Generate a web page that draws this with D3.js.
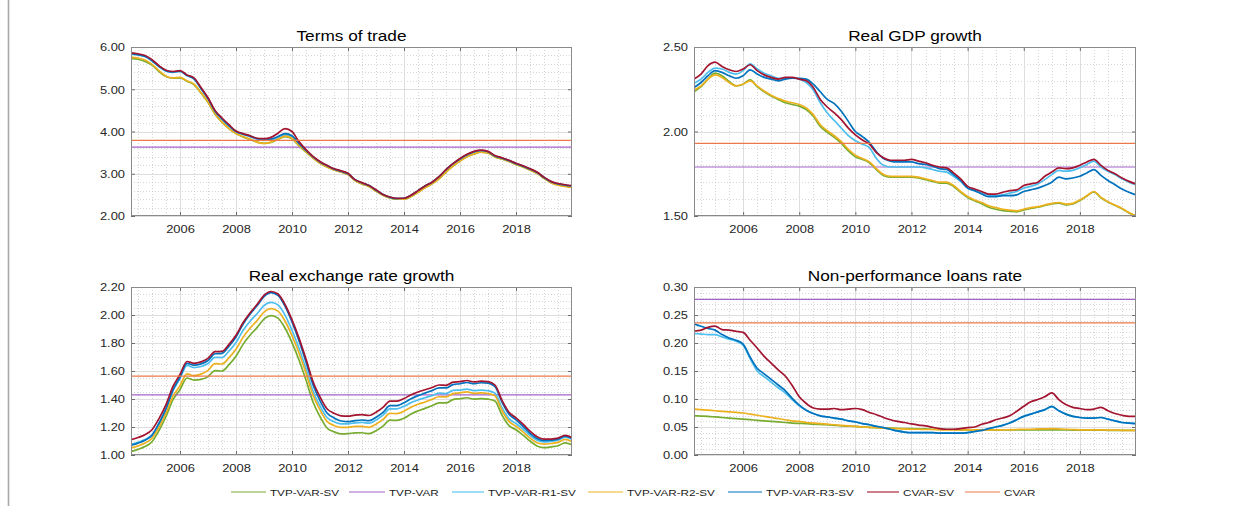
<!DOCTYPE html>
<html>
<head>
<meta charset="utf-8">
<script src="https://cdn.jsdelivr.net/npm/d3@7"></script>
<style>
  html, body { margin: 0; padding: 0; background: #fff; }
  svg { display: block; }
</style>
</head>
<body>
<svg id="fig" width="1252" height="506"></svg>
<script>
// ---------------------------------------------------------------------------
// Quarterly estimates, 2004Q2 .. 2020Q1 (64 observations per series)
// ---------------------------------------------------------------------------
const startYear = 2004.25;
const quarters = d3.range(64).map(i => startYear + i / 4);

const seriesNames = ["TVP-VAR-SV", "TVP-VAR", "TVP-VAR-R1-SV", "TVP-VAR-R2-SV", "TVP-VAR-R3-SV", "CVAR-SV", "CVAR"];

const yearTicks = [2006, 2008, 2010, 2012, 2014, 2016, 2018];

// Terms of trade
const totTicks = [2, 3, 4, 5, 6];
const totSV   = [5.73,5.71,5.66,5.57,5.42,5.30,5.26,5.27,5.19,5.11,4.91,4.69,4.41,4.22,4.07,3.95,3.87,3.81,3.75,3.72,3.74,3.81,3.88,3.83,3.66,3.51,3.37,3.25,3.16,3.09,3.04,2.98,2.84,2.76,2.70,2.59,2.49,2.43,2.40,2.40,2.46,2.56,2.67,2.76,2.88,3.04,3.18,3.30,3.40,3.47,3.51,3.49,3.40,3.35,3.29,3.22,3.16,3.09,3.01,2.89,2.79,2.74,2.71,2.68];
const totVAR  = 3.63;
const totR1   = [5.83,5.81,5.77,5.67,5.53,5.43,5.40,5.42,5.32,5.24,5.01,4.77,4.47,4.29,4.13,3.99,3.93,3.88,3.82,3.79,3.80,3.86,3.92,3.87,3.70,3.54,3.39,3.27,3.18,3.11,3.06,3.00,2.86,2.78,2.72,2.61,2.51,2.44,2.41,2.41,2.48,2.59,2.70,2.79,2.92,3.09,3.23,3.34,3.44,3.51,3.54,3.51,3.42,3.37,3.31,3.24,3.18,3.11,3.03,2.91,2.81,2.76,2.73,2.71];
const totR2   = [5.76,5.74,5.69,5.59,5.44,5.31,5.27,5.28,5.20,5.12,4.92,4.70,4.42,4.22,4.07,3.95,3.88,3.82,3.75,3.72,3.75,3.82,3.89,3.84,3.67,3.52,3.37,3.25,3.16,3.09,3.04,2.98,2.84,2.76,2.70,2.59,2.49,2.43,2.40,2.40,2.46,2.56,2.67,2.76,2.88,3.04,3.18,3.30,3.40,3.47,3.51,3.49,3.40,3.35,3.29,3.22,3.16,3.09,3.01,2.89,2.79,2.73,2.70,2.67];
const totR3   = [5.84,5.82,5.78,5.68,5.54,5.44,5.41,5.43,5.33,5.25,5.02,4.78,4.48,4.30,4.14,4.00,3.94,3.89,3.83,3.80,3.82,3.88,3.95,3.90,3.72,3.55,3.40,3.28,3.19,3.11,3.06,3.00,2.86,2.78,2.72,2.61,2.51,2.44,2.41,2.42,2.49,2.60,2.71,2.80,2.93,3.10,3.24,3.35,3.45,3.52,3.55,3.52,3.42,3.37,3.31,3.24,3.18,3.11,3.03,2.91,2.81,2.76,2.73,2.71];
const totCSV  = [5.86,5.84,5.80,5.70,5.56,5.45,5.42,5.44,5.34,5.27,5.04,4.80,4.50,4.32,4.16,4.01,3.95,3.90,3.84,3.83,3.86,3.96,4.07,4.00,3.76,3.57,3.41,3.29,3.20,3.12,3.07,3.01,2.86,2.79,2.72,2.62,2.51,2.45,2.42,2.42,2.49,2.60,2.71,2.80,2.93,3.10,3.24,3.36,3.46,3.53,3.56,3.53,3.43,3.38,3.32,3.25,3.19,3.12,3.04,2.92,2.82,2.77,2.74,2.72];
const totCVAR = 3.79;

// Real GDP growth
const gdpTicks = [1.5, 2.0, 2.5];
const gdpSV   = [2.235,2.265,2.31,2.345,2.33,2.295,2.27,2.28,2.305,2.265,2.235,2.21,2.19,2.17,2.16,2.15,2.13,2.09,2.03,1.995,1.965,1.93,1.885,1.85,1.835,1.815,1.775,1.74,1.73,1.73,1.73,1.73,1.725,1.715,1.705,1.695,1.695,1.675,1.64,1.61,1.59,1.572,1.552,1.54,1.532,1.528,1.525,1.535,1.545,1.552,1.562,1.572,1.576,1.566,1.572,1.592,1.618,1.643,1.608,1.583,1.563,1.543,1.518,1.50];
const gdpVAR  = 1.79;
const gdpR1   = [2.285,2.31,2.35,2.375,2.37,2.35,2.34,2.36,2.40,2.37,2.345,2.33,2.315,2.315,2.315,2.31,2.29,2.245,2.17,2.11,2.065,2.02,1.975,1.945,1.925,1.905,1.84,1.80,1.79,1.79,1.79,1.79,1.79,1.785,1.775,1.765,1.76,1.735,1.705,1.665,1.65,1.635,1.625,1.62,1.625,1.635,1.645,1.665,1.675,1.69,1.715,1.745,1.77,1.765,1.77,1.785,1.805,1.825,1.79,1.765,1.745,1.72,1.70,1.685];
const gdpR2   = [2.245,2.27,2.31,2.335,2.32,2.29,2.27,2.28,2.30,2.27,2.24,2.215,2.195,2.18,2.17,2.16,2.14,2.10,2.04,2.005,1.975,1.94,1.895,1.86,1.84,1.82,1.78,1.745,1.735,1.735,1.735,1.735,1.73,1.72,1.71,1.70,1.70,1.68,1.645,1.615,1.595,1.58,1.56,1.55,1.54,1.535,1.53,1.54,1.55,1.555,1.565,1.575,1.58,1.57,1.575,1.595,1.62,1.645,1.61,1.585,1.565,1.545,1.52,1.50];
const gdpR3   = [2.26,2.29,2.33,2.36,2.35,2.33,2.315,2.33,2.365,2.34,2.32,2.31,2.30,2.31,2.315,2.315,2.31,2.28,2.235,2.19,2.165,2.12,2.06,2.00,1.97,1.935,1.88,1.84,1.825,1.82,1.82,1.82,1.81,1.805,1.795,1.78,1.775,1.745,1.71,1.665,1.65,1.63,1.615,1.615,1.62,1.62,1.625,1.645,1.655,1.665,1.68,1.70,1.73,1.72,1.725,1.735,1.755,1.775,1.74,1.71,1.685,1.66,1.64,1.625];
const gdpCSV  = [2.31,2.34,2.39,2.41,2.385,2.365,2.355,2.37,2.395,2.36,2.335,2.32,2.31,2.32,2.32,2.31,2.30,2.26,2.19,2.145,2.11,2.07,2.02,1.98,1.95,1.925,1.875,1.845,1.83,1.83,1.83,1.835,1.825,1.815,1.80,1.79,1.785,1.755,1.72,1.675,1.66,1.645,1.63,1.63,1.64,1.65,1.655,1.68,1.69,1.70,1.735,1.76,1.785,1.78,1.785,1.80,1.82,1.835,1.80,1.77,1.75,1.725,1.705,1.69];
const gdpCVAR = 1.93;

// Real exchange rate growth
const rerTicks = [1.0, 1.2, 1.4, 1.6, 1.8, 2.0, 2.2];
const rerSV   = [1.025,1.040,1.060,1.095,1.175,1.275,1.395,1.467,1.550,1.535,1.540,1.560,1.603,1.600,1.645,1.705,1.790,1.855,1.910,1.970,1.995,1.978,1.907,1.803,1.679,1.535,1.379,1.274,1.193,1.165,1.151,1.153,1.158,1.159,1.152,1.173,1.206,1.249,1.247,1.263,1.292,1.315,1.333,1.352,1.372,1.372,1.396,1.402,1.409,1.399,1.403,1.399,1.385,1.285,1.210,1.180,1.142,1.100,1.065,1.053,1.058,1.066,1.087,1.073];
const rerVAR  = 1.43;
const rerR1   = [1.075,1.090,1.110,1.145,1.227,1.330,1.460,1.546,1.640,1.625,1.632,1.653,1.698,1.696,1.742,1.803,1.889,1.955,2.009,2.068,2.090,2.072,1.999,1.891,1.763,1.615,1.457,1.350,1.268,1.238,1.223,1.223,1.230,1.233,1.227,1.250,1.285,1.330,1.330,1.348,1.374,1.393,1.409,1.424,1.442,1.439,1.461,1.464,1.471,1.460,1.464,1.459,1.442,1.338,1.260,1.225,1.185,1.140,1.105,1.093,1.097,1.105,1.127,1.113];
const rerR2   = [1.050,1.065,1.085,1.120,1.200,1.300,1.420,1.495,1.580,1.567,1.578,1.604,1.653,1.650,1.695,1.755,1.840,1.905,1.960,2.020,2.045,2.028,1.957,1.853,1.729,1.585,1.428,1.322,1.240,1.211,1.197,1.198,1.204,1.205,1.198,1.220,1.254,1.297,1.296,1.313,1.341,1.362,1.379,1.397,1.416,1.415,1.438,1.444,1.451,1.440,1.444,1.439,1.422,1.318,1.240,1.205,1.165,1.120,1.088,1.078,1.082,1.090,1.111,1.097];
const rerR3   = [1.070,1.085,1.105,1.140,1.225,1.330,1.465,1.557,1.655,1.642,1.651,1.675,1.723,1.726,1.777,1.843,1.934,2.005,2.066,2.132,2.160,2.140,2.063,1.950,1.817,1.665,1.502,1.388,1.300,1.265,1.243,1.238,1.246,1.250,1.245,1.269,1.305,1.352,1.353,1.373,1.402,1.424,1.442,1.460,1.479,1.479,1.503,1.509,1.518,1.509,1.516,1.514,1.489,1.378,1.292,1.251,1.205,1.155,1.118,1.103,1.106,1.113,1.134,1.120];
const rerCSV  = [1.110,1.125,1.145,1.180,1.260,1.360,1.490,1.575,1.668,1.655,1.665,1.690,1.738,1.740,1.790,1.855,1.945,2.015,2.075,2.140,2.168,2.150,2.075,1.965,1.835,1.685,1.525,1.415,1.330,1.298,1.280,1.278,1.285,1.288,1.282,1.305,1.340,1.385,1.385,1.403,1.430,1.450,1.466,1.482,1.500,1.498,1.520,1.524,1.532,1.522,1.527,1.524,1.500,1.390,1.305,1.265,1.220,1.170,1.130,1.113,1.114,1.120,1.140,1.125];
const rerCVAR = 1.563;

// Non-performance loans rate
const nplTicks = [0, 0.05, 0.10, 0.15, 0.20, 0.25, 0.30];
const nplSV   = [0.070,0.0695,0.069,0.068,0.067,0.066,0.065,0.064,0.063,0.062,0.061,0.060,0.059,0.058,0.057,0.0565,0.056,0.055,0.0545,0.054,0.053,0.052,0.0515,0.051,0.050,0.0495,0.049,0.0485,0.048,0.0475,0.047,0.047,0.0465,0.0465,0.046,0.046,0.0455,0.0455,0.045,0.045,0.045,0.045,0.045,0.045,0.045,0.045,0.045,0.045,0.045,0.045,0.045,0.045,0.045,0.045,0.0445,0.0445,0.0445,0.0445,0.0445,0.044,0.044,0.044,0.044,0.044];
const nplVAR  = 0.278;
const nplR1   = [0.217,0.216,0.215,0.215,0.211,0.207,0.203,0.196,0.172,0.150,0.140,0.130,0.120,0.111,0.099,0.088,0.080,0.074,0.070,0.068,0.066,0.064,0.061,0.059,0.056,0.054,0.051,0.049,0.046,0.043,0.041,0.040,0.040,0.040,0.040,0.039,0.039,0.039,0.039,0.040,0.042,0.044,0.047,0.050,0.053,0.057,0.063,0.069,0.073,0.077,0.081,0.086,0.079,0.073,0.069,0.067,0.066,0.066,0.067,0.064,0.061,0.058,0.057,0.056];
const nplR2   = [0.082,0.081,0.080,0.079,0.078,0.077,0.076,0.075,0.073,0.071,0.069,0.067,0.065,0.063,0.061,0.060,0.058,0.057,0.056,0.055,0.054,0.053,0.052,0.051,0.050,0.0495,0.049,0.048,0.0475,0.047,0.0465,0.046,0.046,0.0455,0.0455,0.045,0.045,0.045,0.045,0.045,0.045,0.045,0.045,0.045,0.045,0.045,0.0455,0.046,0.046,0.0465,0.0465,0.047,0.0465,0.046,0.0455,0.045,0.045,0.045,0.045,0.0445,0.0445,0.044,0.044,0.044];
const nplR3   = [0.234,0.230,0.226,0.223,0.215,0.209,0.205,0.198,0.175,0.155,0.145,0.135,0.125,0.115,0.101,0.089,0.080,0.074,0.070,0.068,0.066,0.064,0.061,0.059,0.056,0.054,0.051,0.049,0.046,0.043,0.041,0.040,0.040,0.040,0.040,0.039,0.039,0.039,0.039,0.040,0.042,0.044,0.047,0.050,0.053,0.057,0.063,0.069,0.073,0.077,0.081,0.087,0.079,0.073,0.069,0.067,0.066,0.066,0.067,0.064,0.061,0.058,0.057,0.056];
const nplCSV  = [0.221,0.223,0.228,0.230,0.224,0.223,0.221,0.219,0.205,0.191,0.176,0.164,0.152,0.141,0.124,0.104,0.092,0.084,0.082,0.082,0.083,0.081,0.082,0.083,0.081,0.076,0.072,0.067,0.063,0.060,0.058,0.0555,0.0535,0.052,0.0495,0.047,0.046,0.046,0.047,0.049,0.050,0.055,0.058,0.063,0.066,0.070,0.078,0.087,0.095,0.099,0.104,0.111,0.099,0.090,0.085,0.083,0.081,0.082,0.085,0.079,0.074,0.071,0.069,0.069];
const nplCVAR = 0.236;

// ---------------------------------------------------------------------------
// Styling and layout
// ---------------------------------------------------------------------------
const seriesColors = ["#77AC30", "#A463C8", "#4DBEEE", "#EDB120", "#0072BD", "#A2142F", "#EB7A48"];
const FONT = "'Liberation Sans', Arial, Helvetica, sans-serif";
const SX = 1.23;          // horizontal stretch applied to all lettering

const panels = [
  { title: "Terms of trade",            yDomain: [2, 6],     ticks: totTicks, minor: 0.2,  box: [131, 572, 47, 216],
    curves: [totSV, totR1, totR2, totR3, totCSV], levels: [totVAR, totCVAR] },
  { title: "Real GDP growth",           yDomain: [1.5, 2.5], ticks: gdpTicks, minor: 0.1,  box: [694, 1136, 47, 216],
    curves: [gdpSV, gdpR1, gdpR2, gdpR3, gdpCSV], levels: [gdpVAR, gdpCVAR] },
  { title: "Real exchange rate growth", yDomain: [1.0, 2.2], ticks: rerTicks, minor: 0.05, box: [131, 572, 287, 455],
    curves: [rerSV, rerR1, rerR2, rerR3, rerCSV], levels: [rerVAR, rerCVAR] },
  { title: "Non-performance loans rate", yDomain: [0, 0.3], ticks: nplTicks, minor: 0.01, box: [694, 1136, 287, 455],
    curves: [nplSV, nplR1, nplR2, nplR3, nplCSV], levels: [nplVAR, nplCVAR] }
];

const xDomain = [2004.25, 2020];
const svg = d3.select("#fig");
const defs = svg.append("defs");

// frame rule along the left edge of the figure
svg.append("line")
  .attr("x1", 8.5).attr("x2", 8.5).attr("y1", 0).attr("y2", 506)
  .attr("stroke", "#a9a9a9").attr("stroke-width", 1.6);

function stretchedText(parent, x, y, str, size, anchor, fill) {
  return parent.append("text")
    .attr("transform", `translate(${x},${y}) scale(${SX},1)`)
    .attr("text-anchor", anchor)
    .attr("font-family", FONT)
    .attr("font-size", size)
    .attr("fill", fill)
    .text(str);
}

function steps(lo, hi, step) {
  const n = Math.round((hi - lo) / step);
  return d3.range(n + 1).map(i => +(lo + i * step).toFixed(6));
}

panels.forEach((p, k) => {
  const [x0, x1, y0, y1] = p.box;
  const x = d3.scaleLinear().domain(xDomain).range([x0, x1]);
  const y = d3.scaleLinear().domain(p.yDomain).range([y1, y0]);
  const g = svg.append("g");

  const clipId = "plotclip" + k;
  defs.append("clipPath").attr("id", clipId)
    .append("rect").attr("x", x0).attr("y", y0).attr("width", x1 - x0).attr("height", y1 - y0);

  // minor grid
  const minorX = steps(2004.5, 2019.5, 0.5).filter(v => !yearTicks.includes(v));
  const minorY = steps(p.yDomain[0], p.yDomain[1], p.minor)
    .filter(v => !p.ticks.some(t => Math.abs(t - v) < 1e-6));
  const grid = g.append("g").attr("stroke", "#c4c4c4").attr("stroke-width", 0.7).attr("stroke-dasharray", "1,2");
  grid.selectAll(".mx").data(minorX).join("line")
    .attr("x1", d => Math.round(x(d)) + 0.5).attr("x2", d => Math.round(x(d)) + 0.5)
    .attr("y1", y0).attr("y2", y1);
  grid.selectAll(".my").data(minorY).join("line")
    .attr("x1", x0).attr("x2", x1)
    .attr("y1", d => Math.round(y(d)) + 0.5).attr("y2", d => Math.round(y(d)) + 0.5);

  // major grid
  const major = g.append("g").attr("stroke", "#dedede").attr("stroke-width", 1);
  major.selectAll(".gx").data(yearTicks).join("line")
    .attr("x1", d => Math.round(x(d)) + 0.5).attr("x2", d => Math.round(x(d)) + 0.5)
    .attr("y1", y0).attr("y2", y1);
  major.selectAll(".gy").data(p.ticks).join("line")
    .attr("x1", x0).attr("x2", x1)
    .attr("y1", d => Math.round(y(d)) + 0.5).attr("y2", d => Math.round(y(d)) + 0.5);

  // series, in legend order
  const plot = g.append("g").attr("clip-path", `url(#${clipId})`);
  const line = d3.line().x((d, i) => x(quarters[i])).y(d => y(d)).curve(d3.curveMonotoneX);
  const order = [
    { kind: "curve", data: p.curves[0], c: 0 },
    { kind: "level", data: p.levels[0], c: 1 },
    { kind: "curve", data: p.curves[1], c: 2 },
    { kind: "curve", data: p.curves[2], c: 3 },
    { kind: "curve", data: p.curves[3], c: 4 },
    { kind: "curve", data: p.curves[4], c: 5 },
    { kind: "level", data: p.levels[1], c: 6 }
  ];
  order.forEach(s => {
    if (s.kind === "curve") {
      plot.append("path").attr("d", line(s.data))
        .attr("fill", "none").attr("stroke", seriesColors[s.c])
        .attr("stroke-width", 1.7).attr("stroke-linejoin", "round");
    } else {
      plot.append("line")
        .attr("x1", x(xDomain[0])).attr("x2", x(xDomain[1]))
        .attr("y1", y(s.data)).attr("y2", y(s.data))
        .attr("stroke", seriesColors[s.c]).attr("stroke-width", 1.2);
    }
  });

  // axes with inward ticks on all four sides
  const tickColor = "#6e6e6e";
  const fmt = d3.format(".2f");
  const left = g.append("g").attr("transform", `translate(${x0},0)`)
    .call(d3.axisLeft(y).tickValues(p.ticks).tickFormat(fmt).tickSize(-4));
  const right = g.append("g").attr("transform", `translate(${x1},0)`)
    .call(d3.axisRight(y).tickValues(p.ticks).tickFormat("").tickSize(-4));
  const bottom = g.append("g").attr("transform", `translate(0,${y1})`)
    .call(d3.axisBottom(x).tickValues(yearTicks).tickFormat(d3.format("d")).tickSize(-4));
  const top = g.append("g").attr("transform", `translate(0,${y0})`)
    .call(d3.axisTop(x).tickValues(yearTicks).tickFormat("").tickSize(-4));
  [left, right, bottom, top].forEach(a => {
    a.select(".domain").remove();
    a.selectAll(".tick line").attr("stroke", tickColor);
  });
  left.selectAll(".tick text")
    .attr("x", null).attr("dy", null)
    .attr("transform", `translate(-6,3.8) scale(${SX},1)`)
    .attr("font-family", FONT).attr("font-size", 10.5).attr("fill", "#262626");
  bottom.selectAll(".tick text")
    .attr("y", null).attr("dy", null)
    .attr("transform", `translate(0,17) scale(${SX},1)`)
    .attr("font-family", FONT).attr("font-size", 10.5).attr("fill", "#262626");

  // plot box
  g.append("rect")
    .attr("x", x0 + 0.5).attr("y", y0 + 0.5)
    .attr("width", x1 - x0 - 1).attr("height", y1 - y0 - 1)
    .attr("fill", "none").attr("stroke", "#8a8a8a").attr("stroke-width", 1);

  // title
  stretchedText(g, (x0 + x1) / 2, y0 - 6.5, p.title, 14, "middle", "#000");
});

// ---------------------------------------------------------------------------
// Legend
// ---------------------------------------------------------------------------
const legendLineStart = [231, 349, 452, 588, 728, 867, 965];
const legendTextStart = [270, 389, 488, 627, 766, 903, 1004];
const legend = svg.append("g");
seriesNames.forEach((name, i) => {
  legend.append("line")
    .attr("x1", legendLineStart[i]).attr("x2", legendTextStart[i] - 4)
    .attr("y1", 492).attr("y2", 492)
    .attr("stroke", seriesColors[i]).attr("stroke-width", 1.1);
  stretchedText(legend, legendTextStart[i], 496, name, 9.5, "start", "#1a1a1a");
});
</script>
</body>
</html>
